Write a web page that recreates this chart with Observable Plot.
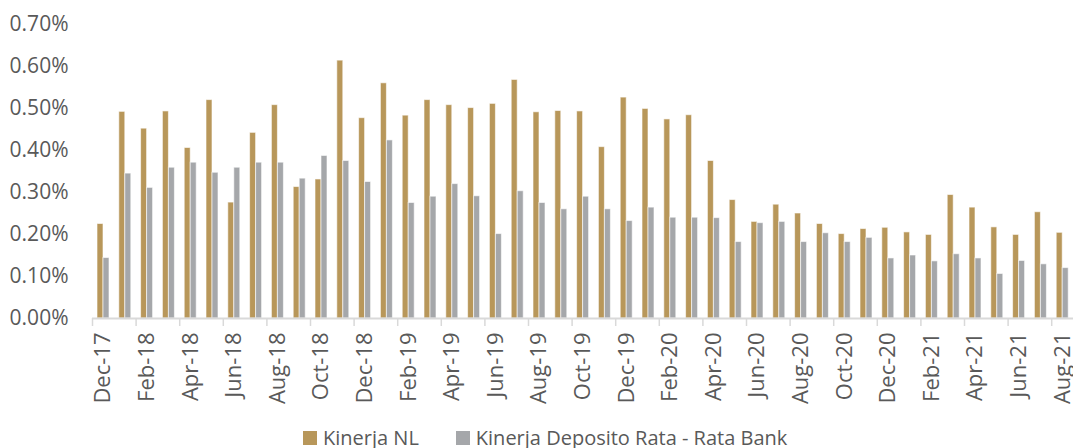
<!DOCTYPE html>
<html>
<head>
<meta charset="utf-8">
<script src="https://cdn.jsdelivr.net/npm/d3@7"></script>
<script src="https://cdn.jsdelivr.net/npm/@observablehq/plot@0.6"></script>
<style>
  html, body { margin: 0; padding: 0; background: #fff; overflow: hidden; }
  #wrap { position: relative; width: 1073px; height: 448px; font-family: "Open Sans", sans-serif; }
  #legend { position: absolute; left: 303px; top: 424px; display: flex; align-items: center; font-size: 20px; color: #595959; white-space: nowrap; }
  .item { display: flex; align-items: center; margin-right: 37px; }
  .sw { width: 14px; height: 14px; margin-right: 6px; }
</style>
</head>
<body>
<div id="wrap"><div id="chart"></div><div id="legend"></div></div>
<script>
const months = ["Dec-17","Jan-18","Feb-18","Mar-18","Apr-18","May-18","Jun-18","Jul-18","Aug-18","Sep-18","Oct-18","Nov-18",
  "Dec-18","Jan-19","Feb-19","Mar-19","Apr-19","May-19","Jun-19","Jul-19","Aug-19","Sep-19","Oct-19","Nov-19",
  "Dec-19","Jan-20","Feb-20","Mar-20","Apr-20","May-20","Jun-20","Jul-20","Aug-20","Sep-20","Oct-20","Nov-20",
  "Dec-20","Jan-21","Feb-21","Mar-21","Apr-21","May-21","Jun-21","Jul-21","Aug-21"];
const kinerjaNL = [0.225,0.492,0.452,0.493,0.406,0.520,0.276,0.442,0.508,0.313,0.331,0.614,
  0.477,0.560,0.483,0.520,0.508,0.501,0.511,0.568,0.491,0.494,0.493,0.408,
  0.526,0.499,0.474,0.484,0.375,0.282,0.230,0.271,0.250,0.225,0.201,0.213,
  0.216,0.205,0.199,0.294,0.264,0.217,0.199,0.253,0.204];
const kinerjaBank = [0.144,0.345,0.311,0.359,0.371,0.347,0.359,0.371,0.371,0.333,0.387,0.375,
  0.325,0.424,0.275,0.290,0.320,0.291,0.201,0.303,0.275,0.260,0.290,0.260,
  0.232,0.264,0.240,0.240,0.239,0.182,0.227,0.230,0.182,0.203,0.182,0.192,
  0.143,0.150,0.136,0.153,0.143,0.106,0.137,0.129,0.120];
const tickLabels = months.filter((d, i) => i % 2 === 0);
const yTicks = [0, 0.1, 0.2, 0.3, 0.4, 0.5, 0.6, 0.7];
const seriesNames = ["Kinerja NL", "Kinerja Deposito Rata - Rata Bank"];
const colors = ["#b8975a", "#a5a7aa"];

const nlData = months.map((m, i) => ({month: m, value: kinerjaNL[i]}));
const bankData = months.map((m, i) => ({month: m, value: kinerjaBank[i]}));

const chart = Plot.plot({
  width: 1073,
  height: 420,
  marginLeft: 92,
  marginRight: 0,
  marginTop: 24,
  marginBottom: 102,
  style: {fontFamily: "'Open Sans', sans-serif", color: "#595959", background: "white", overflow: "visible"},
  x: {domain: months, padding: 0, axis: null, label: null},
  y: {domain: [0, 0.7], axis: null, label: null},
  marks: [
    Plot.axisY({ticks: yTicks, tickSize: 0, tickPadding: 24, tickFormat: d => d.toFixed(2) + "%", fontSize: 21, label: null}),
    Plot.barY(nlData, {x: "month", y: "value", fill: colors[0], insetLeft: 5, insetRight: 10.8, stroke: "white", strokeOpacity: 0.6, strokeWidth: 1}),
    Plot.barY(bankData, {x: "month", y: "value", fill: colors[1], insetLeft: 11, insetRight: 4.8, stroke: "white", strokeOpacity: 0.6, strokeWidth: 1}),
    Plot.ruleY([0], {stroke: "#d9d9d9", strokeWidth: 2}),
    Plot.axisX({ticks: tickLabels, tickSize: 8, tickFormat: () => "", dx: -10.9, stroke: "#d9d9d9", strokeWidth: 1.5, label: null}),
    Plot.axisX({ticks: tickLabels, tickSize: 0, tickRotate: -90, tickPadding: 14, fontSize: 22, label: null})
  ]
});
document.getElementById("chart").appendChild(chart);

const legend = document.getElementById("legend");
seriesNames.forEach((name, i) => {
  const it = document.createElement("div");
  it.className = "item";
  const sw = document.createElement("div");
  sw.className = "sw";
  sw.style.background = colors[i];
  const t = document.createElement("span");
  t.textContent = name;
  it.appendChild(sw);
  it.appendChild(t);
  legend.appendChild(it);
});
</script>
</body>
</html>
